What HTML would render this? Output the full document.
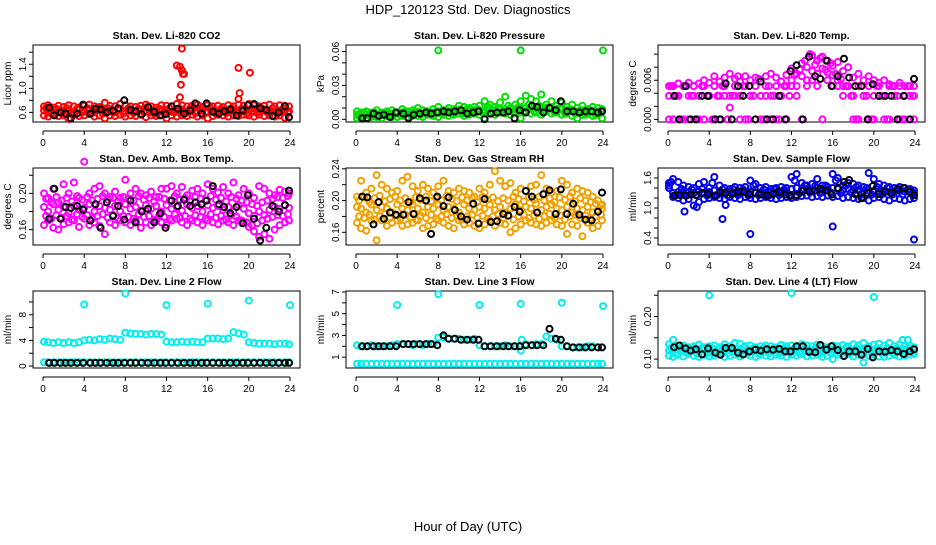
<!DOCTYPE html>
<html><head><meta charset="utf-8">
<style>
body{margin:0;background:#fff;}
svg text{font-family:"Liberation Sans",sans-serif;}
</style></head>
<body>
<svg id="c" width="936" height="540" viewBox="0 0 936 540" xmlns="http://www.w3.org/2000/svg">
<rect width="936" height="540" fill="#fff"/>
<text x="468" y="14" text-anchor="middle" font-size="13">HDP_120123  Std. Dev. Diagnostics</text>
<text x="468" y="531" text-anchor="middle" font-size="13">Hour of Day (UTC)</text>
</svg>
<script>
// shared time axis data (hours)
const bandX = [0.1,0.5,1,1.5,2,2.5,3,3.5,4,4.5,5,5.5,6,6.5,7,7.5,8,8.5,9,9.5,10,10.5,11,11.5,12,12.5,13,13.5,14,14.5,15,15.5,16,16.5,17,17.5,18,18.5,19,19.5,20,20.5,21,21.5,22,22.5,23,23.5,23.9];
const bandX2 = [0.3,0.8,1.3,1.8,2.3,2.8,3.3,3.8,4.3,4.8,5.3,5.8,6.3,6.8,7.3,7.8,8.3,8.8,9.3,9.8,10.3,10.8,11.3,11.8,12.3,12.8,13.3,13.8,14.3,14.8,15.3,15.8,16.3,16.8,17.3,17.8,18.3,18.8,19.3,19.8,20.3,20.8,21.3,21.8,22.3,22.8,23.3,23.8];
const blackX = [0.6,1.1,1.7,2.2,2.7,3.3,3.9,4.6,5.1,5.6,6.2,6.8,7.3,7.9,8.5,9.0,9.6,10.2,10.8,11.4,11.9,12.5,13.1,13.7,14.3,14.8,15.4,15.9,16.5,17.1,17.6,18.2,18.8,19.4,19.9,20.5,21.1,21.7,22.3,22.9,23.5,23.9];
const xTicks = [0,4,8,12,16,20,24];

// Panel 1 CO2
const co2Hi = [0.70,0.72,0.68,0.71,0.69,0.72,0.70,0.68,0.71,0.73,0.70,0.69,0.76,0.71,0.70,0.74,0.72,0.70,0.69,0.71,0.73,0.70,0.68,0.72,0.71,0.70,0.74,0.72,0.70,0.71,0.73,0.69,0.72,0.70,0.71,0.69,0.72,0.70,0.73,0.71,0.74,0.72,0.70,0.71,0.73,0.70,0.72,0.71,0.70];
const co2Lo = [0.55,0.53,0.56,0.54,0.55,0.49,0.56,0.54,0.55,0.57,0.53,0.55,0.50,0.55,0.54,0.56,0.53,0.55,0.54,0.56,0.52,0.55,0.54,0.56,0.50,0.55,0.53,0.55,0.54,0.56,0.53,0.55,0.50,0.54,0.56,0.55,0.53,0.55,0.54,0.56,0.55,0.53,0.56,0.54,0.55,0.53,0.55,0.51,0.52];
const co2Mid = [0.63,0.62,0.64,0.61,0.63,0.62,0.60,0.64,0.62,0.63,0.61,0.64,0.62,0.63,0.60,0.64,0.62,0.63,0.61,0.64,0.62,0.60,0.63,0.62,0.64,0.61,0.63,0.62,0.60,0.64,0.62,0.63,0.61,0.63,0.62,0.64,0.61,0.63,0.62,0.64,0.63,0.61,0.62,0.64,0.63,0.62,0.61,0.63,0.62];
const co2Q1 = [0.67,0.58,0.66,0.59,0.67,0.58,0.66,0.60,0.67,0.59,0.66,0.58,0.67,0.60,0.66,0.58,0.67,0.59,0.66,0.60,0.67,0.58,0.66,0.59,0.67,0.60,0.66,0.58,0.67,0.59,0.66,0.60,0.67,0.58,0.66,0.59,0.67,0.60,0.66,0.58,0.67,0.59,0.66,0.60,0.67,0.58,0.66,0.59];
const co2OutX = [13.0,13.3,13.5,13.5,13.6,13.7,13.4,13.3,19.0,19.1,19.0,20.1];
const co2OutY = [1.38,1.36,1.66,1.30,1.24,1.24,1.06,0.85,1.34,0.92,0.82,1.26];
const co2Black = [0.68,0.55,0.60,0.58,0.50,0.58,0.73,0.58,0.66,0.65,0.60,0.63,0.67,0.80,0.64,0.62,0.57,0.69,0.61,0.55,0.57,0.70,0.66,0.58,0.63,0.75,0.58,0.75,0.61,0.58,0.62,0.65,0.55,0.63,0.72,0.74,0.67,0.64,0.54,0.60,0.70,0.52];

// Panel 2 Pressure
const presHi = [0.007,0.006,0.007,0.006,0.008,0.006,0.007,0.008,0.006,0.009,0.007,0.008,0.010,0.008,0.007,0.009,0.011,0.008,0.010,0.009,0.012,0.011,0.010,0.011,0.012,0.016,0.013,0.011,0.015,0.020,0.010,0.013,0.016,0.021,0.018,0.016,0.022,0.013,0.016,0.012,0.015,0.011,0.013,0.010,0.012,0.009,0.011,0.010,0.009];
const presLo = [0.001,0.002,0.001,0.002,0.002,0.001,0.003,0.002,0.002,0.003,0.002,0.003,0.003,0.002,0.004,0.003,0.002,0.004,0.003,0.004,0.005,0.003,0.004,0.005,0.004,0.001,0.005,0.004,0.006,0.005,0.004,0.006,0.001,0.007,0.005,0.006,0.004,0.007,0.005,0.006,0.004,0.005,0.003,0.001,0.004,0.005,0.003,0.004,0.001];
const presMid = [0.004,0.005,0.004,0.005,0.004,0.005,0.004,0.005,0.005,0.006,0.005,0.006,0.006,0.005,0.006,0.006,0.007,0.006,0.007,0.006,0.008,0.007,0.007,0.008,0.008,0.008,0.009,0.008,0.009,0.009,0.008,0.009,0.010,0.010,0.011,0.010,0.011,0.010,0.010,0.009,0.009,0.008,0.008,0.007,0.008,0.007,0.007,0.007,0.007];
const presQ1 = [0.003,0.006,0.003,0.006,0.003,0.006,0.003,0.006,0.004,0.007,0.004,0.007,0.004,0.007,0.004,0.007,0.005,0.008,0.005,0.008,0.005,0.009,0.005,0.009,0.006,0.011,0.006,0.010,0.007,0.012,0.006,0.011,0.007,0.013,0.007,0.012,0.007,0.011,0.006,0.010,0.005,0.009,0.005,0.008,0.004,0.008,0.004,0.007];
const presOutX = [8.0,16.0,24.0];
const presOutY = [0.061,0.061,0.061];
const presBlack = [0.001,0.001,0.005,0.003,0.004,0.002,0.006,0.005,0.001,0.004,0.005,0.006,0.005,0.006,0.007,0.006,0.007,0.008,0.005,0.006,0.007,0.000,0.005,0.006,0.006,0.007,0.001,0.008,0.006,0.012,0.011,0.006,0.010,0.008,0.016,0.007,0.007,0.006,0.007,0.007,0.006,0.007];

// Panel 3 Li-820 Temp
const tempHi = [0.0051,0.0051,0.0055,0.0051,0.0056,0.0051,0.0055,0.0060,0.0056,0.0066,0.0058,0.0064,0.0070,0.0062,0.0058,0.0066,0.0060,0.0064,0.0058,0.0066,0.0070,0.0064,0.0058,0.0068,0.0078,0.0070,0.0086,0.0080,0.0098,0.0090,0.0096,0.0090,0.0082,0.0088,0.0074,0.0080,0.0064,0.0070,0.0060,0.0066,0.0060,0.0056,0.0060,0.0054,0.0051,0.0056,0.0051,0.0051,0.0051];
const tempMid = [0.0036,0.0051,0.0036,0.0051,0.0036,0.0051,0.0036,0.0051,0.0036,0.0051,0.0036,0.0051,0.0036,0.0051,0.0036,0.0051,0.0036,0.0051,0.0036,0.0051,0.0036,0.0051,0.0036,0.0051,0.0060,0.0051,0.0066,0.0060,0.0074,0.0070,0.0078,0.0072,0.0068,0.0060,0.0051,0.0051,0.0036,0.0051,0.0036,0.0051,0.0036,0.0051,0.0036,0.0051,0.0036,0.0051,0.0036,0.0051,0.0036];
const tempLo = [0,0,0.0036,0,0,0.0036,0,0,0.0036,0,0,0.0036,0.0018,0.0036,0,0,0.0036,0,0,0.0036,0,0,0.0036,0,0.0051,0.0036,0,0.0051,0.0060,0.0051,0,0.0060,0.0051,0.0051,0.0036,0.0051,0,0,0.0036,0,0,0.0036,0,0,0.0036,0,0,0.0036,0];
const tempQ1 = [0.0051,0.0036,0,0.0051,0.0036,0,0.0051,0.0036,0,0.0036,0.0051,0,0.0036,0.0066,0.0051,0,0.0036,0.0062,0,0.0051,0.0036,0,0.0051,0.0036,0.0068,0.0076,0.0090,0.0100,0.0084,0.0094,0.0076,0.0086,0.0070,0.0062,0.0051,0.0036,0,0.0051,0.0036,0,0.0051,0.0036,0,0.0051,0.0036,0,0.0051,0.0036];
const tempBlack = [0.0036,0,0.0051,0,0,0.0036,0.0036,0,0,0.0055,0,0.0051,0.0036,0.0051,0,0.0058,0,0,0.0036,0,0.0074,0.0083,0,0.0096,0.0066,0.0062,0.0090,0.0051,0.0066,0.0093,0.0064,0.0051,0.0051,0,0.0054,0.0036,0.0036,0.0036,0,0.0036,0,0.0062];

// Panel 4 Amb Box Temp
const ambHi = [0.200,0.195,0.205,0.190,0.210,0.200,0.212,0.195,0.235,0.200,0.205,0.208,0.200,0.196,0.202,0.195,0.215,0.200,0.205,0.200,0.198,0.202,0.196,0.205,0.205,0.208,0.200,0.207,0.198,0.203,0.205,0.200,0.210,0.205,0.201,0.207,0.200,0.212,0.198,0.205,0.200,0.195,0.208,0.205,0.200,0.198,0.204,0.202,0.200];
const ambLo = [0.165,0.170,0.162,0.160,0.166,0.168,0.170,0.163,0.172,0.165,0.168,0.164,0.155,0.168,0.165,0.170,0.168,0.165,0.170,0.162,0.168,0.165,0.170,0.168,0.165,0.170,0.172,0.168,0.165,0.170,0.168,0.165,0.170,0.168,0.166,0.170,0.168,0.165,0.170,0.168,0.163,0.158,0.152,0.155,0.150,0.160,0.165,0.168,0.170];
const ambMid = [0.185,0.180,0.188,0.182,0.185,0.178,0.186,0.182,0.184,0.188,0.180,0.186,0.184,0.182,0.186,0.180,0.188,0.183,0.185,0.181,0.187,0.183,0.186,0.180,0.187,0.183,0.185,0.181,0.188,0.184,0.186,0.180,0.187,0.184,0.186,0.182,0.185,0.180,0.187,0.183,0.178,0.175,0.180,0.176,0.182,0.185,0.183,0.187,0.184];
const ambQ1 = [0.194,0.190,0.196,0.192,0.195,0.191,0.197,0.193,0.196,0.192,0.194,0.197,0.193,0.195,0.191,0.196,0.194,0.192,0.197,0.193,0.195,0.191,0.196,0.194,0.192,0.197,0.193,0.195,0.191,0.196,0.194,0.192,0.197,0.193,0.195,0.191,0.196,0.194,0.192,0.190,0.188,0.186,0.190,0.192,0.194,0.196,0.195,0.197];
const ambQ2 = [0.175,0.172,0.176,0.173,0.175,0.171,0.177,0.174,0.176,0.172,0.175,0.177,0.173,0.176,0.172,0.175,0.174,0.172,0.177,0.174,0.175,0.171,0.176,0.174,0.172,0.177,0.173,0.175,0.172,0.176,0.174,0.172,0.177,0.173,0.175,0.171,0.176,0.174,0.170,0.168,0.165,0.167,0.170,0.172,0.174,0.176,0.175,0.177];
const ambBlack = [0.172,0.205,0.172,0.185,0.184,0.186,0.182,0.170,0.188,0.162,0.190,0.175,0.186,0.171,0.192,0.168,0.180,0.183,0.168,0.178,0.162,0.192,0.186,0.193,0.186,0.190,0.188,0.192,0.208,0.188,0.185,0.178,0.185,0.167,0.198,0.172,0.148,0.162,0.186,0.180,0.187,0.203];

// Panel 5 Gas Stream RH
const rhHi = [0.205,0.225,0.210,0.215,0.232,0.220,0.215,0.210,0.212,0.225,0.230,0.218,0.212,0.220,0.215,0.210,0.218,0.225,0.212,0.210,0.215,0.212,0.210,0.205,0.215,0.210,0.220,0.237,0.225,0.218,0.222,0.210,0.215,0.212,0.218,0.220,0.232,0.215,0.210,0.212,0.225,0.220,0.210,0.215,0.212,0.210,0.205,0.200,0.195];
const rhLo = [0.172,0.165,0.162,0.175,0.150,0.175,0.168,0.172,0.175,0.168,0.170,0.172,0.175,0.165,0.168,0.170,0.175,0.172,0.168,0.165,0.175,0.170,0.172,0.168,0.165,0.170,0.175,0.168,0.172,0.170,0.160,0.165,0.170,0.175,0.172,0.170,0.168,0.172,0.175,0.170,0.168,0.158,0.170,0.168,0.155,0.172,0.165,0.168,0.175];
const rhMid = [0.192,0.190,0.185,0.195,0.188,0.192,0.190,0.185,0.195,0.190,0.188,0.195,0.190,0.185,0.192,0.190,0.195,0.188,0.192,0.190,0.185,0.195,0.190,0.188,0.192,0.190,0.195,0.188,0.192,0.185,0.190,0.195,0.188,0.192,0.190,0.196,0.188,0.192,0.195,0.190,0.188,0.192,0.185,0.190,0.188,0.192,0.185,0.188,0.190];
const rhQ1 = [0.200,0.204,0.198,0.203,0.206,0.199,0.202,0.205,0.200,0.203,0.198,0.204,0.201,0.205,0.199,0.203,0.200,0.206,0.202,0.199,0.204,0.200,0.203,0.198,0.205,0.201,0.204,0.199,0.203,0.200,0.205,0.202,0.199,0.204,0.201,0.205,0.200,0.203,0.198,0.204,0.201,0.205,0.199,0.203,0.200,0.198,0.196,0.194];
const rhQ2 = [0.180,0.178,0.182,0.176,0.180,0.183,0.178,0.181,0.177,0.182,0.179,0.176,0.181,0.178,0.182,0.177,0.180,0.183,0.178,0.181,0.176,0.180,0.182,0.178,0.181,0.177,0.180,0.183,0.178,0.181,0.176,0.180,0.182,0.178,0.181,0.177,0.180,0.183,0.178,0.181,0.176,0.180,0.182,0.178,0.181,0.177,0.180,0.182];
const rhBlack = [0.205,0.204,0.170,0.198,0.177,0.185,0.182,0.182,0.198,0.183,0.203,0.200,0.158,0.205,0.193,0.204,0.188,0.180,0.176,0.196,0.171,0.202,0.173,0.174,0.183,0.181,0.192,0.186,0.212,0.205,0.185,0.208,0.213,0.183,0.214,0.183,0.196,0.182,0.176,0.175,0.186,0.210];

// Panel 6 Sample Flow
const sfHi = [1.50,1.58,1.52,1.45,1.42,1.40,1.48,1.52,1.40,1.62,1.45,1.40,1.38,1.42,1.40,1.42,1.55,1.48,1.40,1.42,1.38,1.40,1.42,1.40,1.62,1.68,1.50,1.45,1.48,1.58,1.45,1.42,1.68,1.60,1.45,1.50,1.48,1.45,1.42,1.70,1.58,1.48,1.45,1.42,1.40,1.42,1.40,1.38,1.35];
const sfLo = [1.40,1.22,1.20,1.15,1.18,1.05,1.12,1.18,1.20,1.22,1.20,1.18,1.22,1.20,1.18,1.22,1.20,1.18,1.20,1.22,1.20,1.18,1.20,1.22,1.20,1.22,1.24,1.25,1.22,1.24,1.22,1.25,1.22,1.24,1.20,1.22,1.20,1.18,1.20,1.15,1.20,1.22,1.18,1.15,1.20,1.18,1.15,1.18,1.20];
const sfMid = [1.45,1.30,1.32,1.30,1.32,1.30,1.33,1.30,1.32,1.35,1.31,1.30,1.32,1.30,1.31,1.33,1.32,1.30,1.31,1.30,1.32,1.31,1.30,1.32,1.38,1.40,1.36,1.38,1.37,1.40,1.38,1.37,1.40,1.38,1.36,1.38,1.35,1.36,1.34,1.35,1.34,1.33,1.34,1.32,1.33,1.34,1.33,1.32,1.30];
const sfQ1 = [1.52,1.26,1.38,1.25,1.37,1.26,1.38,1.25,1.50,1.26,1.37,1.25,1.38,1.26,1.37,1.25,1.45,1.26,1.37,1.25,1.38,1.26,1.37,1.25,1.55,1.30,1.45,1.31,1.44,1.30,1.45,1.31,1.55,1.30,1.45,1.31,1.42,1.28,1.40,1.27,1.42,1.28,1.40,1.27,1.38,1.27,1.37,1.26];
const sfOutX = [1.6,5.3,5.6,8.0,16.0,23.9,2.8];
const sfOutY = [0.93,0.78,1.06,0.48,0.63,0.37,1.02];
const sfBlack = [1.25,1.26,1.25,1.27,1.26,1.30,1.28,1.25,1.32,1.30,1.28,1.33,1.32,1.28,1.30,1.27,1.25,1.28,1.33,1.27,1.24,1.26,1.34,1.34,1.35,1.38,1.35,1.27,1.40,1.52,1.56,1.28,1.20,1.30,1.44,1.28,1.33,1.30,1.38,1.40,1.32,1.26];

// Panel 7 Line 2 Flow
const l2Main = [3.8,3.7,3.6,3.7,3.6,3.7,3.6,3.7,4.0,4.1,4.0,4.2,4.1,4.3,4.2,4.1,5.2,5.1,5.0,5.0,4.9,5.0,5.0,4.9,3.8,3.7,3.7,3.8,3.7,3.8,3.7,3.7,4.3,4.3,4.3,4.2,4.3,5.3,5.1,4.9,3.7,3.6,3.5,3.5,3.5,3.4,3.5,3.5,3.4];
const l2Low = [0.6,0.6,0.6,0.6,0.6,0.6,0.6,0.6,0.6,0.6,0.6,0.6,0.6,0.6,0.6,0.6,0.6,0.6,0.6,0.6,0.6,0.6,0.6,0.6,0.6,0.6,0.6,0.6,0.6,0.6,0.6,0.6,0.6,0.6,0.6,0.6,0.6,0.6,0.6,0.6,0.6,0.6,0.6,0.6,0.6,0.6,0.6,0.6,0.6];
const l2OutX = [4.0,8.0,12.0,16.0,20.0,24.0];
const l2OutY = [9.6,11.3,9.5,9.7,10.2,9.5];
const l2Black = [0.5,0.5,0.5,0.5,0.5,0.5,0.5,0.5,0.5,0.5,0.5,0.5,0.5,0.5,0.5,0.5,0.5,0.5,0.5,0.5,0.5,0.5,0.5,0.5,0.5,0.5,0.5,0.5,0.5,0.5,0.5,0.5,0.5,0.5,0.5,0.5,0.5,0.5,0.5,0.5,0.5,0.5];

// Panel 8 Line 3 Flow
const l3Main = [2.1,2.0,2.0,2.1,2.0,2.0,2.0,2.1,2.2,2.2,2.2,2.1,2.2,2.1,2.2,2.2,2.8,2.8,2.7,2.7,2.7,2.6,2.6,2.7,2.1,2.0,2.0,2.0,2.0,2.1,2.0,2.0,1.6,2.2,2.1,2.2,2.2,2.9,2.7,2.6,2.0,2.0,1.9,1.9,1.9,2.0,2.0,1.9,1.9];
const l3Low = [0.4,0.4,0.4,0.4,0.4,0.4,0.4,0.4,0.4,0.4,0.4,0.4,0.4,0.4,0.4,0.4,0.4,0.4,0.4,0.4,0.4,0.4,0.4,0.4,0.4,0.4,0.4,0.4,0.4,0.4,0.4,0.4,0.4,0.4,0.4,0.4,0.4,0.4,0.4,0.4,0.4,0.4,0.4,0.4,0.4,0.4,0.4,0.4,0.4];
const l3OutX = [4.0,8.0,12.0,16.0,20.0,24.0,16.1];
const l3OutY = [5.8,6.8,5.8,5.9,6.0,5.7,2.6];
const l3Black = [2.0,2.0,2.0,2.0,2.0,2.0,2.0,2.2,2.2,2.2,2.2,2.2,2.2,2.1,3.0,2.7,2.7,2.6,2.6,2.6,2.6,2.0,2.0,2.0,2.0,2.0,2.0,2.0,2.1,2.1,2.1,2.1,3.6,2.7,2.6,2.0,1.9,1.9,1.9,1.9,1.9,1.9];

// Panel 9 Line 4 Flow
const l4Hi = [0.135,0.130,0.125,0.132,0.128,0.130,0.134,0.128,0.130,0.132,0.128,0.135,0.130,0.138,0.136,0.130,0.132,0.128,0.130,0.132,0.130,0.128,0.133,0.130,0.132,0.130,0.135,0.132,0.130,0.134,0.130,0.128,0.132,0.130,0.133,0.130,0.135,0.132,0.138,0.130,0.134,0.136,0.132,0.138,0.130,0.134,0.130,0.132,0.128];
const l4Lo = [0.108,0.105,0.110,0.106,0.112,0.108,0.105,0.110,0.106,0.108,0.112,0.105,0.108,0.110,0.106,0.112,0.108,0.105,0.110,0.108,0.106,0.110,0.108,0.105,0.110,0.108,0.112,0.106,0.108,0.110,0.105,0.108,0.100,0.110,0.108,0.112,0.106,0.110,0.092,0.108,0.110,0.106,0.105,0.108,0.110,0.106,0.108,0.110,0.112];
const l4Mid = [0.120,0.118,0.122,0.120,0.118,0.121,0.119,0.122,0.120,0.118,0.121,0.120,0.122,0.119,0.121,0.120,0.118,0.122,0.120,0.119,0.121,0.120,0.118,0.122,0.120,0.121,0.119,0.122,0.120,0.118,0.121,0.120,0.122,0.119,0.121,0.120,0.118,0.122,0.120,0.121,0.119,0.122,0.120,0.118,0.121,0.120,0.122,0.119,0.121];
const l4Q1 = [0.126,0.113,0.127,0.114,0.126,0.113,0.127,0.114,0.126,0.113,0.127,0.114,0.126,0.113,0.127,0.114,0.126,0.113,0.127,0.114,0.126,0.113,0.127,0.114,0.126,0.113,0.127,0.114,0.126,0.113,0.127,0.114,0.126,0.113,0.127,0.114,0.126,0.113,0.127,0.114,0.126,0.113,0.127,0.114,0.126,0.113,0.127,0.114];
const l4OutX = [4.0,12.0,20.0,0.5,22.8,23.3];
const l4OutY = [0.250,0.255,0.246,0.145,0.145,0.145];
const l4Black = [0.128,0.132,0.125,0.120,0.123,0.111,0.125,0.115,0.110,0.126,0.126,0.115,0.111,0.118,0.122,0.120,0.123,0.122,0.124,0.118,0.118,0.130,0.130,0.117,0.116,0.133,0.122,0.130,0.121,0.107,0.118,0.118,0.110,0.124,0.104,0.118,0.117,0.121,0.118,0.112,0.118,0.123];

const svg = document.getElementById('c');
const NS = 'http://www.w3.org/2000/svg';
function mk(tag, attrs, parent){const e=document.createElementNS(NS,tag);for(const k in attrs)e.setAttribute(k,attrs[k]);(parent||svg).appendChild(e);return e;}

const colL=[33,346,658], rowT=[45,168,291], BW=267, BH=77;
const panels=[
 {name:'co2',title:'Stan. Dev. Li-820 CO2',ylab:'Licor ppm',yr:[0.44,1.72],ticks:[0.6,0.8,1.0,1.2,1.4,1.6],labs:['0.6','1.0','1.4'],labv:[0.6,1.0,1.4],
  series:[[bandX,co2Hi,'#ff0000'],[bandX,co2Lo,'#ff0000'],[bandX,co2Mid,'#ff0000'],[bandX2,co2Q1,'#ff0000'],[co2OutX,co2OutY,'#ff0000'],[blackX,co2Black,'#000']]},
 {name:'pressure',title:'Stan. Dev. Li-820 Pressure',ylab:'kPa',yr:[-0.0024,0.0658],ticks:[0,0.01,0.02,0.03,0.04,0.05,0.06],labs:['0.00','0.03','0.06'],labv:[0,0.03,0.06],
  series:[[bandX,presHi,'#00dd00'],[bandX,presLo,'#00dd00'],[bandX,presMid,'#00dd00'],[bandX2,presQ1,'#00dd00'],[presOutX,presOutY,'#00dd00'],[blackX,presBlack,'#000']]},
 {name:'li820-temp',title:'Stan. Dev. Li-820 Temp.',ylab:'degrees C',yr:[-0.0004,0.0114],ticks:[0,0.002,0.004,0.006,0.008,0.010],labs:['0.000','0.006'],labv:[0,0.006],
  series:[[bandX,tempHi,'#ff00ff'],[bandX,tempMid,'#ff00ff'],[bandX,tempLo,'#ff00ff'],[bandX2,tempQ1,'#ff00ff'],[blackX,tempBlack,'#000']]},
 {name:'amb-box-temp',title:'Stan. Dev. Amb. Box Temp.',ylab:'degrees C',yr:[0.143,0.228],ticks:[0.16,0.18,0.20,0.22],labs:['0.16','0.20'],labv:[0.16,0.20],
  series:[[bandX,ambHi,'#ff00ff'],[bandX,ambLo,'#ff00ff'],[bandX,ambMid,'#ff00ff'],[bandX2,ambQ1,'#ff00ff'],[bandX2,ambQ2,'#ff00ff'],[blackX,ambBlack,'#000']]},
 {name:'gas-stream-rh',title:'Stan. Dev. Gas Stream RH',ylab:'percent',yr:[0.144,0.241],ticks:[0.16,0.18,0.20,0.22,0.24],labs:['0.16','0.20','0.24'],labv:[0.16,0.20,0.24],
  series:[[bandX,rhHi,'#f0a000'],[bandX,rhLo,'#f0a000'],[bandX,rhMid,'#f0a000'],[bandX2,rhQ1,'#f0a000'],[bandX2,rhQ2,'#f0a000'],[blackX,rhBlack,'#000']]},
 {name:'sample-flow',title:'Stan. Dev. Sample Flow',ylab:'ml/min',yr:[0.26,1.8],ticks:[0.4,0.6,0.8,1.0,1.2,1.4,1.6],labs:['0.4','1.0','1.6'],labv:[0.4,1.0,1.6],
  series:[[bandX,sfHi,'#0000ee'],[bandX,sfLo,'#0000ee'],[bandX,sfMid,'#0000ee'],[bandX2,sfQ1,'#0000ee'],[sfOutX,sfOutY,'#0000ee'],[blackX,sfBlack,'#000']]},
 {name:'line2-flow',title:'Stan. Dev. Line 2 Flow',ylab:'ml/min',yr:[-0.3,11.7],ticks:[0,2,4,6,8,10],labs:['0','4','8'],labv:[0,4,8],
  series:[[bandX,l2Main,'#00eeee'],[bandX,l2Low,'#00eeee'],[l2OutX,l2OutY,'#00eeee'],[blackX,l2Black,'#000']]},
 {name:'line3-flow',title:'Stan. Dev. Line 3 Flow',ylab:'ml/min',yr:[0.0,7.09],ticks:[1,2,3,4,5,6,7],labs:['1','3','5','7'],labv:[1,3,5,7],
  series:[[bandX,l3Main,'#00eeee'],[bandX,l3Low,'#00eeee'],[l3OutX,l3OutY,'#00eeee'],[blackX,l3Black,'#000']]},
 {name:'line4-flow',title:'Stan. Dev. Line 4 (LT) Flow',ylab:'ml/min',yr:[0.079,0.26],ticks:[0.10,0.15,0.20,0.25],labs:['0.10','0.20'],labv:[0.10,0.20],
  series:[[bandX,l4Hi,'#00eeee'],[bandX,l4Lo,'#00eeee'],[bandX,l4Mid,'#00eeee'],[bandX2,l4Q1,'#00eeee'],[l4OutX,l4OutY,'#00eeee'],[blackX,l4Black,'#000']]}
];

panels.forEach((p,i)=>{
  const L=colL[i%3], T=rowT[Math.floor(i/3)], B=T+BH, R=L+BW;
  const g=mk('g',{});
  
  
  const xs=v=>L+10+v/24*247;
  const ys=v=>B-(v-p.yr[0])/(p.yr[1]-p.yr[0])*BH;
  const t=mk('text',{x:(L+R)/2,y:T-6,'text-anchor':'middle','font-size':'10.5','font-weight':'bold'},g);
  t.textContent=p.title;
  
  
  const bx=mk('rect',{x:L,y:T,width:BW,height:BH,fill:'none',stroke:'#000','stroke-width':1},g);
  
  
  const xa=mk('g',{},g);
  
  
  mk('line',{x1:xs(0),x2:xs(24),y1:B+9,y2:B+9,stroke:'#000'},xa);
  xTicks.forEach(v=>{
    mk('line',{x1:xs(v),x2:xs(v),y1:B+9,y2:B+13,stroke:'#000'},xa);
    const tx=mk('text',{x:xs(v),y:B+24,'text-anchor':'middle','font-size':'10'},xa);
    tx.textContent=v;
  });
  const ya=mk('g',{},g);
  
  
  mk('line',{x1:L,x2:L,y1:ys(p.ticks[0]),y2:ys(p.ticks[p.ticks.length-1]),stroke:'#000'},ya);
  p.ticks.forEach(v=>mk('line',{x1:L-4,x2:L,y1:ys(v),y2:ys(v),stroke:'#000'},ya));
  p.labv.forEach((v,k)=>{
    const yy=ys(v);
    const tx=mk('text',{x:L-7,y:yy,'text-anchor':'middle','font-size':'10',transform:`rotate(-90 ${L-7} ${yy})`},ya);
    tx.textContent=p.labs[k];
  });
  const yl=mk('text',{x:L-22,y:(T+B)/2,'text-anchor':'middle','font-size':'10',transform:`rotate(-90 ${L-22} ${(T+B)/2})`},g);
  yl.textContent=p.ylab;
  
  
  p.series.forEach((s,si)=>{
    const sg=mk('g',{fill:'none',stroke:s[2],'stroke-width':2},g);
    
    
    s[0].forEach((xv,k)=>{
      if(s[1][k]===undefined) return;
      const c=mk('circle',{cx:xs(xv).toFixed(1),cy:ys(s[1][k]).toFixed(1),r:3},sg);
      
      
    });
  });
});
</script>
</body></html>
